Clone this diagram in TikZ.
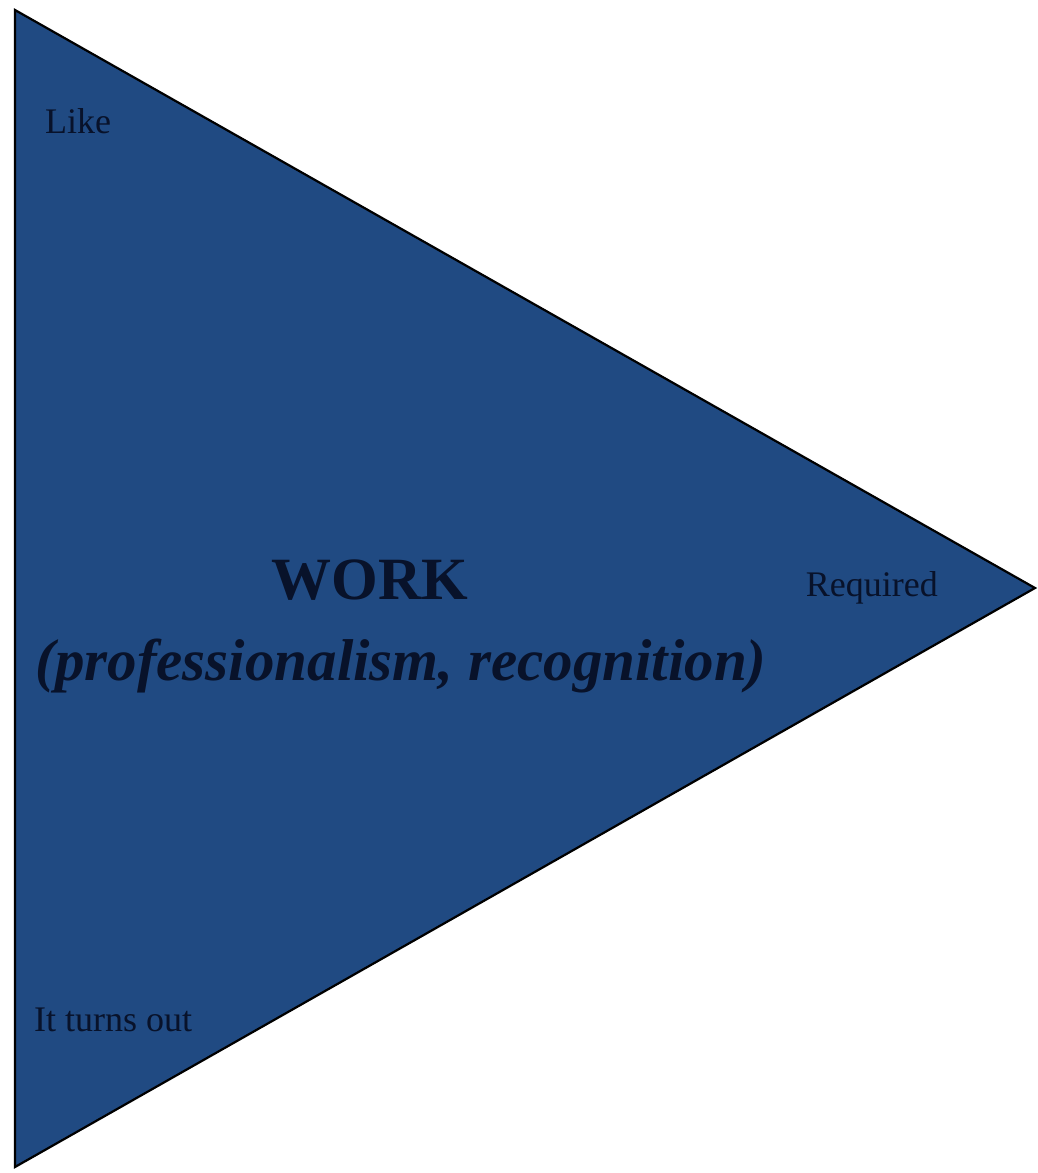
\documentclass[tikz,border=0pt]{standalone}
\usepackage{fontspec}
\setmainfont{Liberation Serif}
\usepackage{tikz}
\usetikzlibrary{positioning}
\definecolor{workblue}{RGB}{32,74,130}
\definecolor{inktext}{RGB}{8,18,42}

\begin{document}
\begin{tikzpicture}[x=1pt,y=-1pt,
  side/.style={text=inktext,font=\fontsize{36}{40}\selectfont},
  big/.style={text=inktext,font=\fontsize{60}{66}\selectfont\bfseries}]
\useasboundingbox (0,0) rectangle (1038,1173);
\coordinate (top) at (15,10);
\coordinate (bot) at (15,1167);
\coordinate (tip) at (1035,588);
\draw[fill=workblue,line width=2.2pt,line join=miter] (top) -- (tip) -- (bot) -- cycle;
\node[side,anchor=base west,inner sep=0pt] (like) at (45,133) {Like};
\node[side,anchor=base east,inner sep=0pt] (required) at (938,596) {Required};
\node[side,anchor=base west,inner sep=0pt] (turnsout) at (34,1031) {It turns out};
\node[big,anchor=base,inner sep=0pt] (work) at (370,599) {WORK};
\node[big,anchor=base,inner sep=0pt,font=\fontsize{59}{66}\selectfont\bfseries\itshape] (prof) at (401,680) {(professionalism, recognition)};
\end{tikzpicture}
\end{document}
